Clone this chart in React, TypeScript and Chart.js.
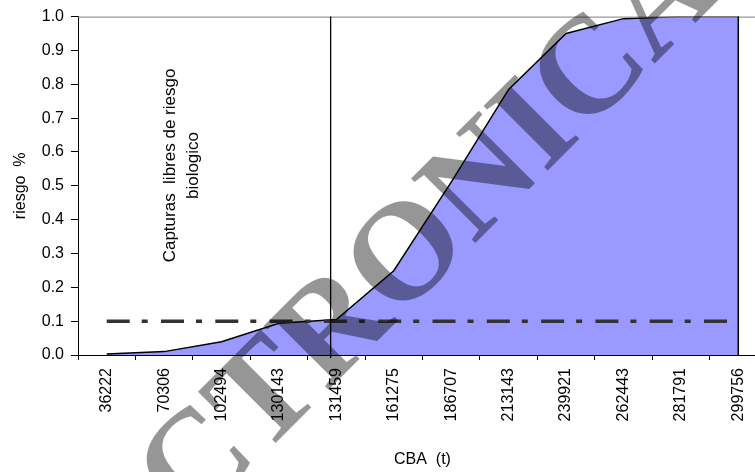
import React, { useEffect, useRef } from 'react';
import { Chart, registerables } from 'chart.js';

Chart.register(...registerables);

// ---- data ----
const categorias = ['36222', '70306', '102494', '130143', '131459', '161275', '186707', '213143', '239921', '262443', '281791', '299756'];
const riesgo = [0.003, 0.01, 0.039, 0.094, 0.105, 0.249, 0.511, 0.785, 0.95, 0.994, 1.0, 1.0];
const umbral = [0.1, 0.1, 0.1, 0.1, 0.1, 0.1, 0.1, 0.1, 0.1, 0.1, 0.1, 0.1];
const yMin = 0;
const yMax = 1;
const yStep = 0.1;

// marker of the biological limit (position on the category axis)
const limitePos = 3.9;

const tituloX = 'CBA  (t)';
const tituloY = 'riesgo  %';
const anotacion = ['Capturas  libres de riesgo', 'biologico'];
const marcaAgua = 'ELECTRONICA';

const SANS = '"Liberation Sans", Arial, sans-serif';
const SERIF = '"Liberation Serif", "Times New Roman", serif';

const extras = {
  id: 'extras',
  afterDatasetsDraw(chart: any) {
    const { ctx, chartArea: a, scales } = chart;
    const xs = scales.x;
    const ys = scales.y;
    ctx.save();
    // top border of plot area
    ctx.strokeStyle = '#808080';
    ctx.lineWidth = 1;
    ctx.beginPath();
    ctx.moveTo(a.left, a.top + 0.5);
    ctx.lineTo(a.right, a.top + 0.5);
    ctx.stroke();

    // closing right edge of the area
    const meta = chart.getDatasetMeta(0);
    const last = meta.data[meta.data.length - 1];
    ctx.strokeStyle = '#000';
    ctx.lineWidth = 1.5;
    ctx.beginPath();
    ctx.moveTo(last.x, last.y);
    ctx.lineTo(last.x, ys.getPixelForValue(0));
    ctx.stroke();

    // vertical limit line
    const vx = xs.getPixelForValue(limitePos);
    ctx.lineWidth = 1.3;
    ctx.beginPath();
    ctx.moveTo(vx, a.top);
    ctx.lineTo(vx, a.bottom + 3);
    ctx.stroke();

    // annotation text
    const cx = xs.getPixelForValue(1.3);
    const cy = ys.getPixelForValue(0.56);
    ctx.translate(cx, cy);
    ctx.rotate(-Math.PI / 2);
    ctx.fillStyle = '#000';
    ctx.font = '17px ' + SANS;
    ctx.textAlign = 'center';
    ctx.textBaseline = 'middle';
    ctx.fillText(anotacion[0], 0, -11.5);
    ctx.fillText(anotacion[1], 0, 11.5);
    ctx.restore();
  },
  afterDraw(chart: any) {
    const { ctx, scales } = chart;
    const cx = scales.x.getPixelForValue(3.95);
    const cy = scales.y.getPixelForValue(0.062);
    ctx.save();
    ctx.translate(cx, cy);
    ctx.rotate(-Math.PI / 4);
    ctx.font = 'bold 139px ' + SERIF;
    ctx.fillStyle = 'rgba(0,0,0,0.41)';
    ctx.textAlign = 'center';
    ctx.textBaseline = 'middle';
    ctx.fillText(marcaAgua, 0, 0);
    ctx.restore();
  },
};

export default function App() {
  const ref = useRef<HTMLCanvasElement>(null);
  useEffect(() => {
    if (!ref.current) return;
    const chart = new Chart(ref.current, {
      type: 'line',
      data: {
        labels: categorias,
        datasets: [
          {
            label: 'riesgo',
            data: riesgo,
            fill: 'origin',
            backgroundColor: '#9999FF',
            borderColor: '#000000',
            borderWidth: 1.5,
            pointRadius: 0,
            tension: 0,
            order: 2,
          },
          {
            label: 'umbral',
            data: umbral,
            fill: false,
            borderColor: '#333333',
            borderWidth: 3.5,
            borderDash: [23, 12, 6, 13.3],
            borderCapStyle: 'butt',
            pointRadius: 0,
            tension: 0,
            order: 1,
          },
        ],
      },
      options: {
        animation: false,
        responsive: false,
        devicePixelRatio: 1,
        layout: { padding: { top: 16, left: 0, right: 0, bottom: 0 } },
        plugins: {
          legend: { display: false },
          tooltip: { enabled: false },
        },
        scales: {
          x: {
            type: 'category',
            offset: true,
            grid: {
              display: true,
              drawOnChartArea: false,
              drawTicks: true,
              tickLength: 5,
              color: '#000',
              offset: true,
            },
            border: { display: true, color: '#000', width: 1 },
            ticks: {
              autoSkip: false,
              minRotation: 90,
              maxRotation: 90,
              padding: 8,
              color: '#000',
              font: { family: SANS, size: 16 },
            },
            title: {
              display: true,
              text: tituloX,
              color: '#000',
              font: { family: SANS, size: 16 },
              padding: { top: 0, bottom: 3 },
            },
            afterFit: (s: any) => {
              s.height = 117;
            },
          },
          y: {
            min: yMin,
            max: yMax,
            grid: {
              display: true,
              drawOnChartArea: false,
              drawTicks: true,
              tickLength: 7,
              color: '#000',
            },
            border: { display: true, color: '#000', width: 1 },
            ticks: {
              stepSize: yStep,
              padding: 7,
              color: '#000',
              font: { family: SANS, size: 16 },
              callback: (v: any) => Number(v).toFixed(1),
            },
            title: {
              display: true,
              text: tituloY,
              color: '#000',
              font: { family: SANS, size: 16 },
              padding: { top: 11, bottom: 0 },
            },
            afterFit: (s: any) => {
              s.width = 78;
            },
          },
        },
      },
      plugins: [extras],
    });
    return () => chart.destroy();
  }, []);

  return (
    <div style={{ position: 'absolute', left: 0, top: 0, width: 755, height: 472, overflow: 'hidden', background: '#fff' }}>
      <canvas ref={ref} width={767} height={472} style={{ display: 'block' }} />
    </div>
  );
}
